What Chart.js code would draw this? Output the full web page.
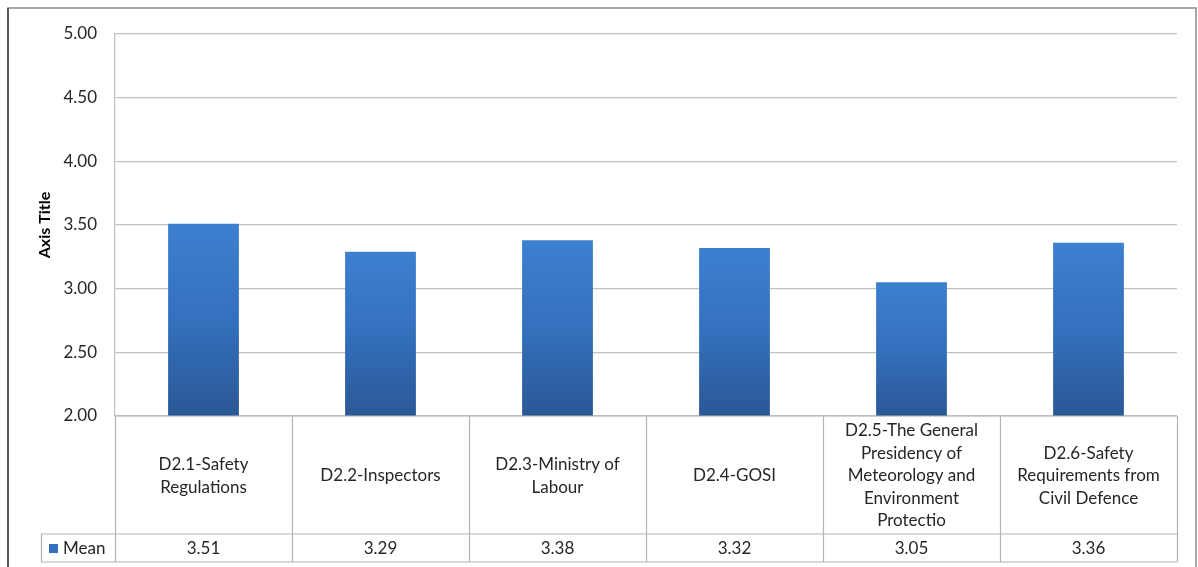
<!DOCTYPE html>
<html>
<head>
<meta charset="utf-8">
<script src="https://cdn.jsdelivr.net/npm/chart.js@4/dist/chart.umd.min.js"></script>
<style>
  html, body { margin: 0; padding: 0; background: #ffffff; }
  canvas { display: block; }
</style>
</head>
<body>
<canvas id="c" width="1198" height="567"></canvas>
<script>
// Category labels, already broken into the lines shown in the table cells
const categories = [
  ['D2.1-Safety', 'Regulations'],
  ['D2.2-Inspectors'],
  ['D2.3-Ministry of', 'Labour'],
  ['D2.4-GOSI'],
  ['D2.5-The General', 'Presidency of', 'Meteorology and', 'Environment', 'Protectio'],
  ['D2.6-Safety', 'Requirements from', 'Civil Defence']
];
const seriesName = 'Mean';
const meanValues = [3.51, 3.29, 3.38, 3.32, 3.05, 3.36];
const yTicks = [2.0, 2.5, 3.0, 3.5, 4.0, 4.5, 5.0];

const FONT = 'Lato, "Open Sans", sans-serif';
const TEXT = '#262626';
const LINE = '#b4b4b4';

// Per-bar vertical gradient, lighter at the top of each bar
function barFill(ctx) {
  const chart = ctx.chart;
  const ys = chart.scales.y;
  if (!ys || ctx.parsed == null) return '#3470bd';
  const top = ys.getPixelForValue(ctx.parsed.y);
  const bottom = ys.getPixelForValue(ys.min);
  if (!isFinite(top) || !isFinite(bottom) || top === bottom) return '#3470bd';
  const g = chart.ctx.createLinearGradient(0, top, 0, bottom);
  g.addColorStop(0, '#3d80d0');
  g.addColorStop(0.5, '#3470bd');
  g.addColorStop(1, '#2a5896');
  return g;
}

// Frame around the whole chart
const framePlugin = {
  id: 'frame',
  beforeDraw(chart) {
    const c = chart.ctx;
    c.save();
    c.fillStyle = '#ffffff';
    c.fillRect(0, 0, chart.width, chart.height);
    c.strokeStyle = '#8c8c8c';
    c.lineWidth = 1.5;
    c.beginPath();
    c.moveTo(8, chart.height + 2);
    c.lineTo(8, 8);
    c.lineTo(1196, 8);
    c.lineTo(1196, chart.height + 2);
    c.stroke();
    c.strokeStyle = '#5a5a5a';
    c.lineWidth = 2;
    c.beginPath();
    c.moveTo(8, 8);
    c.lineTo(8, chart.height + 2);
    c.stroke();
    c.restore();
  }
};

// Data table under the plot: category row, then the legend key + values row
const dataTablePlugin = {
  id: 'dataTable',
  afterDraw(chart) {
    const c = chart.ctx;
    const xs = chart.scales.x;
    const area = chart.chartArea;
    const n = categories.length;
    const colW = (area.right - area.left) / n;
    const rowTop = area.bottom;
    const rowMid = rowTop + 118;
    const rowBot = rowMid + 28;
    const keyLeft = 41;

    c.save();
    c.strokeStyle = LINE;
    c.lineWidth = 1.2;
    c.beginPath();
    // horizontal rules
    c.moveTo(area.left, rowTop); c.lineTo(area.right, rowTop);
    c.moveTo(keyLeft, rowMid); c.lineTo(area.right, rowMid);
    c.moveTo(keyLeft, rowBot); c.lineTo(area.right, rowBot);
    // vertical rules
    for (let i = 0; i <= n; i++) {
      const x = Math.round(area.left + i * colW) + 0.5;
      c.moveTo(x, rowTop); c.lineTo(x, rowBot);
    }
    c.moveTo(keyLeft + 0.5, rowMid); c.lineTo(keyLeft + 0.5, rowBot);
    c.stroke();

    c.fillStyle = TEXT;
    c.font = '17px ' + FONT;
    c.textAlign = 'center';
    c.textBaseline = 'middle';
    const lh = 22.5;
    const catMid = (rowTop + rowMid) / 2 + 1;
    categories.forEach((lines, i) => {
      const cx = xs.getPixelForValue(i);
      const y0 = catMid - (lines.length - 1) * lh / 2;
      lines.forEach((t, k) => c.fillText(t, cx, y0 + k * lh));
    });

    const valMid = (rowMid + rowBot) / 2 + 1;
    meanValues.forEach((v, i) => {
      c.fillText(v.toFixed(2), xs.getPixelForValue(i), valMid);
    });

    // legend key
    c.fillStyle = '#3470bd';
    c.fillRect(keyLeft + 8, valMid - 5, 9, 9);
    c.fillStyle = TEXT;
    c.textAlign = 'left';
    c.fillText(seriesName, keyLeft + 22, valMid);
    c.restore();
  }
};

new Chart(document.getElementById('c'), {
  type: 'bar',
  data: {
    labels: categories,
    datasets: [{
      label: seriesName,
      data: meanValues,
      backgroundColor: barFill,
      borderWidth: 0,
      categoryPercentage: 1,
      barPercentage: 0.4
    }]
  },
  options: {
    responsive: false,
    animation: false,
    devicePixelRatio: 1,
    layout: { padding: { top: 34, right: 21, bottom: 151, left: 0 } },
    plugins: {
      legend: { display: false },
      tooltip: { enabled: false }
    },
    scales: {
      x: {
        display: false,
        offset: true,
        grid: { display: false }
      },
      y: {
        min: 2,
        max: 5,
        afterFit(scale) { scale.width = 115; },
        afterBuildTicks(scale) { scale.ticks = yTicks.map(v => ({ value: v })); },
        ticks: {
          padding: 18,
          color: TEXT,
          font: { family: FONT, size: 17 },
          callback: v => Number(v).toFixed(2)
        },
        grid: { color: '#c2c2c2', lineWidth: 1.3, drawTicks: false },
        border: { display: true, color: '#c2c2c2', width: 1.3 },
        title: {
          display: true,
          text: 'Axis Title',
          color: '#000000',
          font: { family: FONT, size: 16, weight: 'bold' },
          padding: { top: 35, bottom: 0 }
        }
      }
    }
  },
  plugins: [framePlugin, dataTablePlugin]
});
</script>
</body>
</html>
